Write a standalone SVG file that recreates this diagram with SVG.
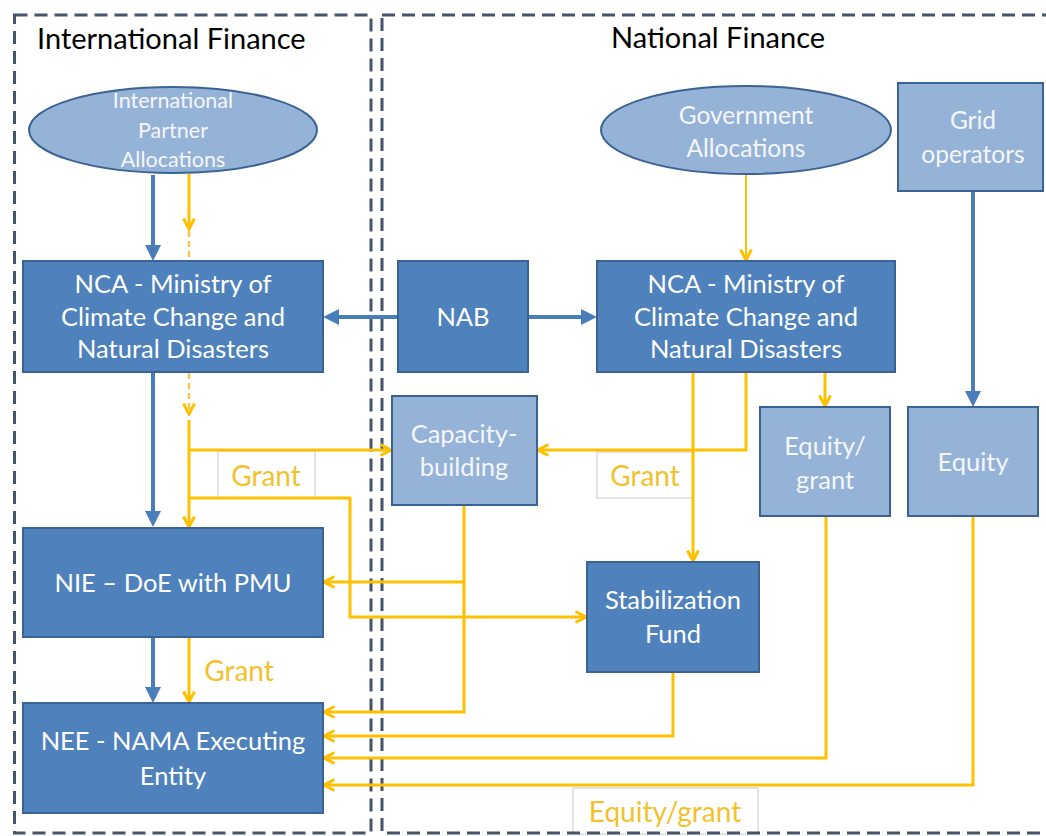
<svg xmlns="http://www.w3.org/2000/svg" width="1046" height="836" viewBox="0 0 1046 836">
<style>
.region{fill:none;stroke:#44546a;stroke-width:3;stroke-dasharray:13 7}
.dark{fill:#4f81bd;stroke:#3a6394;stroke-width:2}
.light{fill:#95b3d7;stroke:#3a6394;stroke-width:2}
.t{font-family:Lato,"Liberation Sans",sans-serif;text-anchor:middle}
.tw{fill:#ffffff;font-size:25.5px}
.tl{fill:#f4f6fa;font-size:25.5px}
.title{font-family:Lato,"Liberation Sans",sans-serif;font-size:29px;fill:#000}
.lab{fill:#ffffff;stroke:#c8c8c8;stroke-width:1}
.ylab{fill:#f2c12e;font-size:28px}
.bl{fill:none;stroke:#4a7ebb;stroke-width:4}
.yl{fill:none;stroke:#ffc000;stroke-width:3}
.yd{fill:none;stroke:#f0c850;stroke-width:2.5;stroke-dasharray:6 4}
</style>
<defs>
<marker id="ab" markerUnits="userSpaceOnUse" viewBox="0 0 16 16" markerWidth="16" markerHeight="16" refX="11" refY="8" orient="auto">
<path d="M0,0 L16,8 L0,16 z" fill="#4a7ebb"/>
</marker>
<marker id="ay" markerUnits="userSpaceOnUse" viewBox="0 0 14 14" markerWidth="14" markerHeight="14" refX="12" refY="7" orient="auto">
<path d="M1.5,1.5 L12,7 L1.5,12.5" fill="none" stroke="#ffc000" stroke-width="3"/>
</marker>
</defs>
<rect x="0" y="0" width="1046" height="836" fill="#ffffff"/>

<g id="labels">
<rect class="lab" x="218" y="451" width="97" height="47"/>
<text class="t ylab" x="266" y="486">Grant</text>
<rect class="lab" x="597" y="452" width="96" height="46"/>
<text class="t ylab" x="645" y="486">Grant</text>
<text class="t ylab" x="239" y="681">Grant</text>
<rect class="lab" x="573" y="788" width="185" height="46"/>
<text class="t ylab" x="665" y="822">Equity/grant</text>
</g>

<g id="regions">
<rect class="region" x="14.5" y="15" width="356.5" height="818"/>
<rect class="region" x="382" y="15" width="690" height="818"/>
<text class="title" x="37" y="49">International Finance</text>
<text class="title" x="611" y="48">National Finance</text>
</g>

<g id="connectors">
<path class="bl" d="M153,175 V256" marker-end="url(#ab)"/>
<path class="bl" d="M153,372 V522" marker-end="url(#ab)"/>
<path class="bl" d="M153,637 V698" marker-end="url(#ab)"/>
<path class="bl" d="M398,317 H328" marker-end="url(#ab)"/>
<path class="bl" d="M528,317 H592" marker-end="url(#ab)"/>
<path class="bl" d="M973,191 V402" marker-end="url(#ab)"/>

<path class="yl" d="M189,174 V229" marker-end="url(#ay)"/>
<path class="yd" d="M189,231 V261"/>
<path class="yd" d="M189,373 V414" marker-end="url(#ay)"/>
<path class="yl" d="M189,420 V527" marker-end="url(#ay)"/>
<path class="yl" d="M189,450 H391" marker-end="url(#ay)"/>
<path class="yl" d="M189,498 H350 V617 H586" marker-end="url(#ay)"/>
<path class="yl" d="M464,506 V582 H324" marker-end="url(#ay)"/>
<path class="yl" d="M464,582 V712 H324" marker-end="url(#ay)"/>
<path class="yl" d="M746,373 V450 H538" marker-end="url(#ay)"/>
<path class="yl" d="M693,373 V561" marker-end="url(#ay)"/>
<path class="yl" d="M825,373 V406" marker-end="url(#ay)"/>
<path class="yl" style="stroke-width:2" d="M746,174 V260" marker-end="url(#ay)"/>
<path class="yl" d="M189,638 V702" marker-end="url(#ay)"/>
<path class="yl" d="M673,673 V736 H324" marker-end="url(#ay)"/>
<path class="yl" d="M826,517 V758 H324" marker-end="url(#ay)"/>
<path class="yl" d="M973,517 V785 H324" marker-end="url(#ay)"/>
</g>

<g id="intl-partner">
<ellipse class="light" cx="173" cy="130" rx="144" ry="43"/>
<text class="t tl" style="font-size:21.5px" x="173" y="108">International</text>
<text class="t tl" style="font-size:21.5px" x="173" y="138">Partner</text>
<text class="t tl" style="font-size:21.5px" x="173" y="167">Allocations</text>
</g>
<g id="gov-alloc">
<ellipse class="light" cx="746" cy="130" rx="145" ry="44"/>
<text class="t tl" style="font-size:24.5px" x="746" y="124">Government</text>
<text class="t tl" style="font-size:24.5px" x="746" y="157">Allocations</text>
</g>
<g id="grid-operators">
<rect class="light" x="898" y="83" width="145" height="108"/>
<text class="t tl" style="font-size:24.5px" x="973" y="129">Grid</text>
<text class="t tl" style="font-size:24.5px" x="973" y="163">operators</text>
</g>
<g id="nca-intl">
<rect class="dark" x="23" y="261" width="300" height="111"/>
<text class="t tw" x="173" y="293">NCA - Ministry of</text>
<text class="t tw" x="173" y="326">Climate Change and</text>
<text class="t tw" x="173" y="358">Natural Disasters</text>
</g>
<g id="nab">
<rect class="dark" x="398" y="261" width="130" height="111"/>
<text class="t tw" x="463" y="326">NAB</text>
</g>
<g id="nca-nat">
<rect class="dark" x="597" y="261" width="298" height="111"/>
<text class="t tw" x="746" y="293">NCA - Ministry of</text>
<text class="t tw" x="746" y="326">Climate Change and</text>
<text class="t tw" x="746" y="358">Natural Disasters</text>
</g>
<g id="capacity">
<rect class="light" x="392" y="396" width="145" height="109"/>
<text class="t tl" x="464" y="443">Capacity-</text>
<text class="t tl" x="464" y="476">building</text>
</g>
<g id="equity-grant">
<rect class="light" x="760" y="407" width="130" height="109"/>
<text class="t tl" x="825" y="455">Equity/</text>
<text class="t tl" x="825" y="489">grant</text>
</g>
<g id="equity">
<rect class="light" x="908" y="407" width="130" height="109"/>
<text class="t tl" x="973" y="471">Equity</text>
</g>
<g id="stabilization">
<rect class="dark" x="587" y="562" width="172" height="110"/>
<text class="t tw" x="673" y="609">Stabilization</text>
<text class="t tw" x="673" y="643">Fund</text>
</g>
<g id="nie">
<rect class="dark" x="23" y="528" width="300" height="109"/>
<text class="t tw" x="173" y="592">NIE – DoE with PMU</text>
</g>
<g id="nee">
<rect class="dark" x="23" y="703" width="300" height="110"/>
<text class="t tw" x="173" y="750">NEE - NAMA Executing</text>
<text class="t tw" x="173" y="785">Entity</text>
</g>
</svg>
